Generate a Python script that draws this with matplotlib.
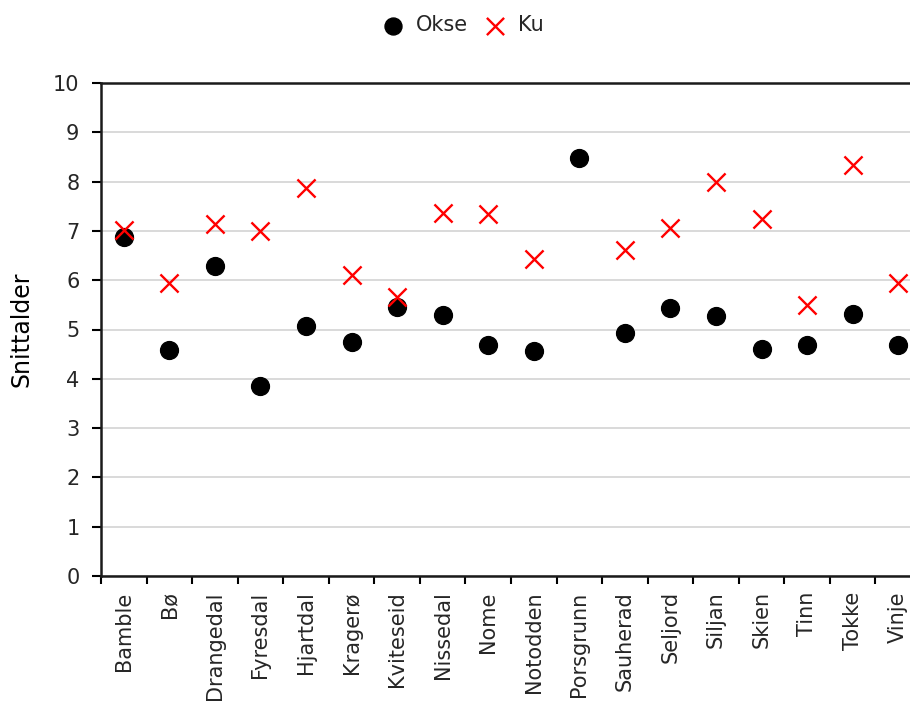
import matplotlib.pyplot as plt
import numpy as np

kommuner = ["Bamble", "Bø", "Drangedal", "Fyresdal", "Hjartdal", "Kragerø",
            "Kviteseid", "Nissedal", "Nome", "Notodden", "Porsgrunn", "Sauherad",
            "Seljord", "Siljan", "Skien", "Tinn", "Tokke", "Vinje"]
okse = [6.88, 4.59, 6.28, 3.86, 5.08, 4.74, 5.45, 5.29, 4.69, 4.57, 8.48,
        4.92, 5.43, 5.28, 4.61, 4.68, 5.32, 4.68]
# Porsgrunn har ingen ku-verdi
ku = [7.01, 5.95, 7.15, 6.99, 7.88, 6.10, 5.66, 7.37, 7.34, 6.42, np.nan,
      6.61, 7.06, 7.99, 7.24, 5.49, 8.34, 5.94]

plt.rcParams['font.family'] = ['DejaVu Sans']
plt.rcParams['text.color'] = '#262626'

fig = plt.figure(figsize=(9.1, 7.06), dpi=100)
ax = fig.add_axes([101/910, 1 - 576/706, 820/910, 493/706])

x = np.arange(len(kommuner))
ax.scatter(x, okse, s=165, color='black', marker='o', label='Okse', zorder=3)
ax.scatter(x, ku, s=170, color='#ff0000', marker='x', linewidths=1.7,
           label='Ku', zorder=4)

ax.set_xlim(-0.5, len(kommuner) - 0.5)
ax.set_ylim(0, 10)
ax.set_yticks(range(0, 11))
ax.yaxis.grid(True, color='#d9d9d9', linewidth=1.4)
ax.set_axisbelow(True)

# tick marks between the categories, labels in the middle
ax.set_xticks(np.arange(-0.5, len(kommuner), 1.0))
ax.set_xticklabels([])
ax.set_xticks(x, minor=True)
ax.set_xticklabels(kommuner, minor=True, rotation=90, fontsize=15,
                   color='#262626')
ax.tick_params(axis='x', which='minor', length=0, pad=11)
ax.tick_params(axis='x', which='major', length=6, width=1.5, direction='out')
ax.tick_params(axis='y', length=6.5, width=1.5, direction='out', labelsize=15,
               pad=9, labelcolor='#262626')

ax.spines['right'].set_visible(False)
for s in ['left', 'bottom', 'top']:
    ax.spines[s].set_linewidth(1.8)
    ax.spines[s].set_color('#1a1a1a')

ax.set_ylabel('Snittalder', fontsize=17, labelpad=14)

fig.legend(loc='upper center', bbox_to_anchor=(0.503, 1.005), ncol=2,
           frameon=False, fontsize=15, handletextpad=0.1, columnspacing=0.3,
           markerscale=0.95)

fig.savefig('out.png', dpi=100)
